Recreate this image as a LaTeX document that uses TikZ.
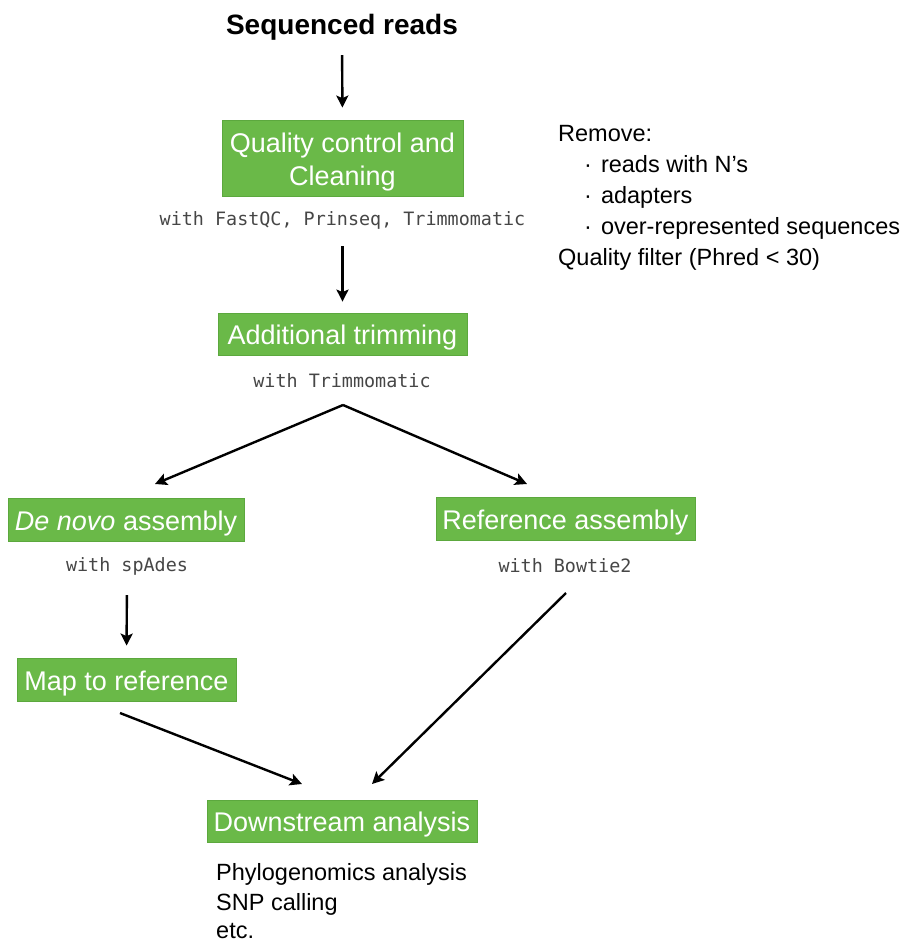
\documentclass[tikz,border=0pt]{standalone}
\usepackage{fontspec}
\setmainfont{Liberation Sans}
\setmonofont{DejaVu Sans Mono}
\usetikzlibrary{arrows.meta}
\definecolor{boxgreen}{RGB}{106,185,72}
\definecolor{boxedge}{RGB}{92,168,62}
\definecolor{codegray}{RGB}{70,70,70}
\newcommand{\lowered}[1]{\raisebox{-4pt}[\height][\depth]{#1}}
\begin{document}
\begin{tikzpicture}[x=1pt,y=-1pt,
  greenbox/.style={fill=boxgreen,draw=boxedge,line width=0.8pt,text=white,
    font=\fontsize{27}{33}\selectfont,inner sep=0pt,align=center},
  tool/.style={font=\ttfamily\fontsize{18.4}{22}\selectfont,text=codegray,inner sep=0pt},
  note/.style={font=\fontsize{23.5}{31}\selectfont,inner sep=0pt,anchor=base west},
  flow/.style={line width=2.4pt,-{Stealth[length=12pt,width=12pt,inset=2.5pt]}}]
\useasboundingbox (0,0) rectangle (915,943);

\node[inner sep=0pt,anchor=base,font=\bfseries\fontsize{28}{33}\selectfont] (title) at (342,34) {Sequenced reads};

\node[greenbox,minimum width=241,minimum height=76] (qc) at (342.5,158) {\lowered{\begin{tabular}{@{}c@{}}Quality control and\\Cleaning\end{tabular}}};
\node[tool] (qctool) at (342.5,220) {with FastQC, Prinseq, Trimmomatic};

\node[greenbox,minimum width=249,minimum height=42] (trim) at (342.5,334) {\lowered{Additional trimming}};
\node[tool] (trimtool) at (342,381) {with Trimmomatic};

\node[greenbox,minimum width=236,minimum height=43] (denovo) at (126,519.5) {\lowered{\textit{De novo} assembly}};
\node[tool] (dntool) at (127,566) {with spAdes};

\node[greenbox,minimum width=259,minimum height=43] (refasm) at (565.5,518.5) {\lowered{Reference assembly}};
\node[tool] (bttool) at (565,566) {with Bowtie2};

\node[greenbox,minimum width=219,minimum height=43] (map) at (126.5,679.5) {\lowered{Map to reference}};

\node[greenbox,minimum width=270,minimum height=42] (down) at (342,821) {\lowered{Downstream analysis}};

% notes on the right
\node[note] (r1) at (558,141) {Remove:};
\node[note] (r2) at (584,172) {\textperiodcentered\hspace{9pt}reads with N’s};
\node[note] (r3) at (584,203) {\textperiodcentered\hspace{9pt}adapters};
\node[note] (r4) at (584,234) {\textperiodcentered\hspace{9pt}over-represented sequences};
\node[note] (r5) at (558,265) {Quality filter (Phred < 30)};

% notes below
\node[note] (b1) at (216,880) {Phylogenomics analysis};
\node[note] (b2) at (216,910) {SNP calling};
\node[note] (b3) at (216,938) {etc.};

% connector end points
\coordinate (split) at (343,405);
\coordinate (dnin) at (155,484);
\coordinate (refin) at (527,484);
\coordinate (mapout) at (120,713);
\coordinate (downinL) at (302,784);
\coordinate (btout) at (566,593);
\coordinate (downinR) at (372,784);

\draw[flow,shorten <=15pt,shorten >=12pt] (title.south) -- (qc.north);
\draw[flow,shorten <=17pt,shorten >=11pt] (qctool.south) -- (trim.north);
\draw[flow] (split) -- (dnin);
\draw[flow] (split) -- (refin);
\draw[flow,shorten <=20pt,shorten >=12pt] (dntool.south) -- (map.north);
\draw[flow] (mapout) -- (downinL);
\draw[flow] (btout) -- (downinR);
\end{tikzpicture}
\end{document}
